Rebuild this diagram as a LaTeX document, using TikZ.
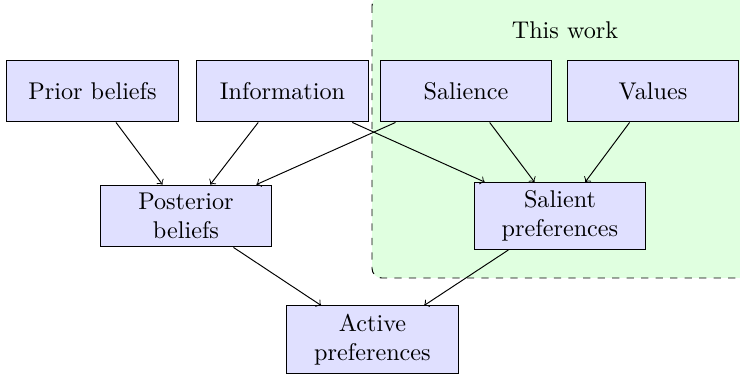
\documentclass[tikz,border=0pt]{standalone}
\begin{document}
\begin{tikzpicture}[x=0.4133pt,y=-0.4133pt,
  box/.style={draw, fill=blue!12, minimum width=70.7pt, minimum height=25.6pt, align=center, inner sep=3.33pt},
  conn/.style={->}]
\useasboundingbox (0,0) rectangle (740,377);
\begin{scope}
\clip (0,0) rectangle (740,377);
\draw[dashed, fill=green!12, rounded corners=4pt] (372,-4) rectangle (760,278);
\end{scope}
\node (tw) at (565,30) {This work};
\node[box] (prior) at (92.5,91) {Prior beliefs};
\node[box] (info) at (282.5,91) {Information};
\node[box] (sal) at (466,91) {Salience};
\node[box] (val) at (653,91) {Values};
\node[box] (post) at (186,216) {Posterior\\beliefs};
\node[box] (salp) at (560,216) {Salient\\preferences};
\node[box] (act) at (372.5,339.5) {Active\\preferences};
\draw[conn] (prior) -- (post);
\draw[conn] (info) -- (post);
\draw[conn] (sal) -- (post);
\draw[conn] (info) -- (salp);
\draw[conn] (sal) -- (salp);
\draw[conn] (val) -- (salp);
\draw[conn] (post) -- (act);
\draw[conn] (salp) -- (act);
\end{tikzpicture}
\end{document}
